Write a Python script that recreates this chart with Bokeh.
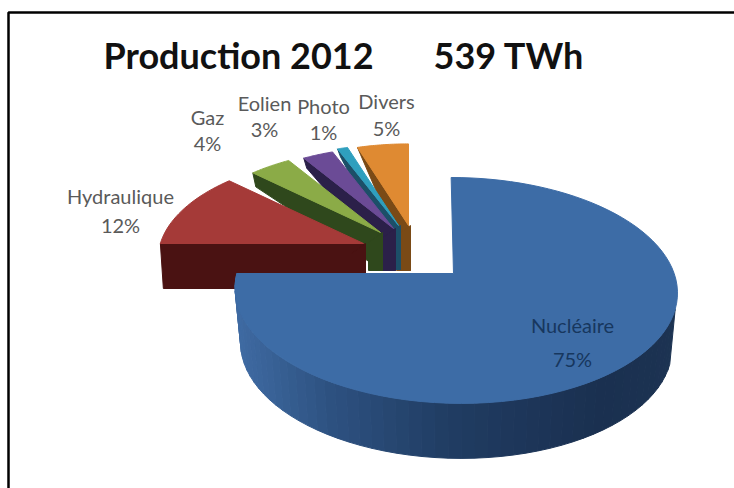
from math import cos, sin, pi

from bokeh.core.properties import value
from bokeh.embed import file_html
from bokeh.models import Range1d
from bokeh.plotting import figure
from bokeh.resources import INLINE

# Share of 2012 electricity production, percent, clockwise from 12 o'clock
sources = ["Nucléaire", "Hydraulique", "Gaz", "Eolien", "Photo", "Divers"]
shares = [75, 12, 4, 3, 1, 5]

title_left = "Production 2012"
title_right = "539 TWh"

WIDTH, HEIGHT = 734, 488

# Per-slice style and placement of the exploded 3D pie
top_colors = ["#3d6ca6", "#a53a38", "#8bab47", "#6b4b96", "#2f9fbe", "#df8a32"]
wall_colors = ["#1f3a5e", "#4a1212", "#2f481c", "#2b2049", "#1c4f68", "#7a4a16"]
apex = [(453, 273), (363, 243), (380, 232), (393, 228), (398, 225), (408, 225)]
radius_scale = [0.985, 0.915, 0.87, 0.85, 0.85, 0.85]
inner_depth = [55, 45, 38, 42, 44, 45]
outer_depth = [55, 45, 14, 10, 8, 7]
label_xy = [(572, 324, 358), (120, 195, 224), (207, 116, 142),
            (264, 102, 128), (323, 105, 131), (386, 100, 127)]
label_colors = ["#17375e", "#5a5a5a", "#5a5a5a", "#5a5a5a", "#5a5a5a", "#5a5a5a"]

# Projection of the unit disc onto the tilted pie surface
RX, RY, PERSP = 222, 110.4, -0.15


def project(theta, ax, ay, sx=1.0, sy=1.0, tilt=0.0):
    u, v = sin(theta), -cos(theta)
    w = 1 + PERSP * v
    return ax + sx * RX * u / w + tilt * v / w, ay + sy * RY * v / w


def mix(c1, c2, t):
    a = [int(c1[i:i + 2], 16) for i in (1, 3, 5)]
    b = [int(c2[i:i + 2], 16) for i in (1, 3, 5)]
    return "#" + "".join(f"{round(x + (y - x) * t):02x}" for x, y in zip(a, b))


p = figure(width=WIDTH, height=HEIGHT, output_backend="svg", toolbar_location=None,
           x_range=Range1d(0, WIDTH), y_range=Range1d(HEIGHT, 0),
           min_border=0, outline_line_color=None, background_fill_color="white")
p.axis.visible = False
p.grid.visible = False

# Frame: only the top and left rules are visible
p.line([8, 8, WIDTH], [HEIGHT, 12, 12], line_color="black", line_width=2.5)

# Slice angles from the values
starts, ends, acc = [], [], 0
for s in shares:
    starts.append(2 * pi * acc / 100)
    acc += s
    ends.append(2 * pi * acc / 100)

# Exploded slices are painted back to front: rightmost first
for i in [5, 4, 3, 2, 1]:
    ax, ay = apex[i]
    sc = radius_scale[i]
    n = 24
    arc = [project(starts[i] + (ends[i] - starts[i]) * k / n, ax, ay, sc, sc) for k in range(n + 1)]
    x0, y0 = arc[0]
    # Cut face along the leading edge of the slice
    p.patch([ax, x0, x0 + 3, ax + 2], [ay, y0, y0 + outer_depth[i], ay + inner_depth[i]],
            fill_color=wall_colors[i], line_color=wall_colors[i])
    # Column below the slice tip
    p.patch([ax - 12, ax + 2, ax + 2, ax - 12],
            [ay + 10, ay, ay + inner_depth[i], ay + inner_depth[i]],
            fill_color=wall_colors[i], line_color=wall_colors[i])
    p.patch([ax] + [q[0] for q in arc], [ay] + [q[1] for q in arc],
            fill_color=top_colors[i], line_color=top_colors[i])

# Nuclear slice: curved side wall as shaded strips, then the top face
ax, ay = apex[0]
n = 90
sweep = ends[0] - starts[0]
arc = [project(starts[0] + sweep * k / n, ax + 2, ay, radius_scale[0], 1.0, tilt=5.0) for k in range(n + 1)]
d = inner_depth[0]
side_stops = [(233, "#3f6ba3"), (330, "#2d5180"), (450, "#203c62"), (600, "#1a3050"), (680, "#1c3352")]


def side_color(x):
    for (x1, c1), (x2, c2) in zip(side_stops, side_stops[1:]):
        if x <= x2:
            return mix(c1, c2, max(0.0, (x - x1) / (x2 - x1)))
    return side_stops[-1][1]


for k in range(n):
    (x1, y1), (x2, y2) = arc[k], arc[k + 1]
    # The back half of the rim hides its own wall
    if max(y1, y2) < 312 and sweep * k / n < pi:
        continue
    c = side_color((x1 + x2) / 2)
    shrink1 = (x1 - 457) * 0.975 + 457
    shrink2 = (x2 - 457) * 0.975 + 457
    p.patch([x1, x2, shrink2, shrink1], [y1, y2, y2 + d, y1 + d], fill_color=c, line_color=c)

p.patch([ax] + [q[0] for q in arc], [ay] + [q[1] for q in arc],
        fill_color=top_colors[0], line_color=top_colors[0])

# Data labels: name above percentage
for name, share, (lx, ly1, ly2), col in zip(sources, shares, label_xy, label_colors):
    p.text([lx], [ly1], text=[name], text_font=value("Lato"), text_font_size="20px",
           text_color=col, text_align="center", text_baseline="middle")
    p.text([lx], [ly2], text=[f"{share}%"], text_font=value("Lato"), text_font_size="20px",
           text_color=col, text_align="center", text_baseline="middle")

# Title in two parts
p.text([103], [54], text=[title_left], text_font=value("Lato"), text_font_style="bold",
       text_font_size="36px", text_color="#111111", text_align="left", text_baseline="middle")
p.text([433], [54], text=[title_right], text_font=value("Lato"), text_font_style="bold",
       text_font_size="36px", text_color="#111111", text_align="left", text_baseline="middle")

open("out.html", "w").write(file_html(p, INLINE))
